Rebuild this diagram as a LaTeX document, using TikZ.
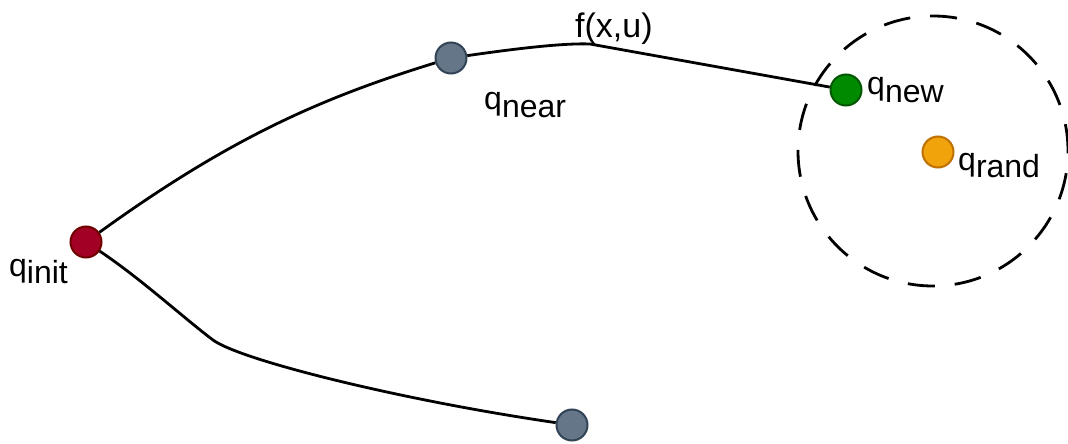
\documentclass[tikz,border=0pt]{standalone}
\usepackage{fontspec}
\setmainfont{Liberation Sans}
\definecolor{redfill}{HTML}{A20025}
\definecolor{redline}{HTML}{6F0000}
\definecolor{grayfill}{HTML}{647687}
\definecolor{grayline}{HTML}{314354}
\definecolor{greenfill}{HTML}{008A00}
\definecolor{greenline}{HTML}{005700}
\definecolor{orangefill}{HTML}{F0A30A}
\definecolor{orangeline}{HTML}{BD7000}
\newcommand\qlab[1]{q\raisebox{-7pt}{#1}}
\begin{document}
\begin{tikzpicture}[x=1pt,y=-1pt,
  vertex/.style={circle,minimum size=31pt,inner sep=0pt,line width=2pt},
  edge/.style={line width=2.8pt,black},
  lab/.style={anchor=base west,inner sep=0pt,font=\fontsize{32}{38}\selectfont}]
\useasboundingbox (0,0) rectangle (1068,444);
\draw[line width=2.8pt,dash pattern=on 27pt off 20pt] (933,151) circle[radius=135pt];
\node[vertex,fill=redfill,draw=redline] (init) at (86,242) {};
\node[vertex,fill=grayfill,draw=grayline] (near) at (451,58) {};
\node[vertex,fill=greenfill,draw=greenline] (new) at (846,90) {};
\node[vertex,fill=orangefill,draw=orangeline] (rand) at (938,152) {};
\node[vertex,fill=grayfill,draw=grayline] (bot) at (572,425) {};
\coordinate (peak) at (590,44);
\coordinate (bend) at (213,340);
\draw[edge] (init) .. controls (230,138) and (321,98) .. (near);
\draw[edge] (near) .. controls (520,48) and (565,43) .. (peak) -- (new);
\draw[edge] (init) .. controls (140,278) and (185,319) .. (bend)
  .. controls (240,360) and (400,400) .. (bot);
\node[lab] (linit) at (9,276) {\qlab{init}};
\node[lab] (lnear) at (484,110) {\qlab{near}};
\node[lab] (lnew) at (867,95) {\qlab{new}};
\node[lab] (lrand) at (958,170) {\qlab{rand}};
\node[lab,font=\fontsize{34}{40}\selectfont] (lf) at (575,38) {f(x,u)};
\end{tikzpicture}
\end{document}
